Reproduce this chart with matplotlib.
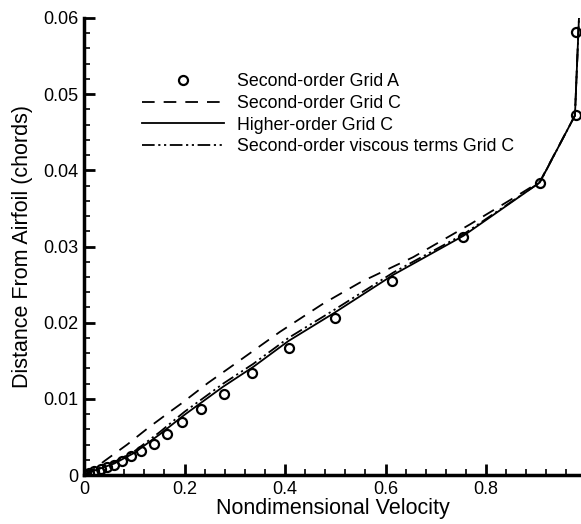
import matplotlib
matplotlib.use("Agg")
import matplotlib.pyplot as plt
from matplotlib.ticker import MultipleLocator
from matplotlib.lines import Line2D

plt.rcParams['font.family'] = ['Liberation Sans', 'DejaVu Sans']

# Second-order Grid A (circles)
vel_a = [0, 0.003, 0.010, 0.020, 0.033, 0.046, 0.060, 0.075, 0.093, 0.114, 0.139, 0.165,
         0.196, 0.233, 0.279, 0.334, 0.408, 0.500, 0.613, 0.754, 0.907, 0.980, 0.980]
dist_a = [0, 0.00013, 0.0003, 0.0005, 0.00075, 0.0010, 0.00137, 0.0019, 0.0025, 0.0032, 0.0041, 0.0054,
          0.0069, 0.0086, 0.0107, 0.0134, 0.0167, 0.0206, 0.0255, 0.0312, 0.0383, 0.0472, 0.0582]

# Second-order Grid C (dashed)
vel_c2 = [0, 0.02, 0.042, 0.086, 0.128, 0.171, 0.194, 0.247, 0.29, 0.39, 0.476, 0.55,
          0.655, 0.768, 0.848, 0.907, 0.977, 0.985]
dist_c2 = [0, 0.0008, 0.0019, 0.0040, 0.0062, 0.0083, 0.0094, 0.0121, 0.0141, 0.0188, 0.0225, 0.0253,
           0.0286, 0.0329, 0.0361, 0.0385, 0.0472, 0.0600]

# Higher-order Grid C (solid)
vel_ho = [0, 0.01, 0.03, 0.06, 0.10, 0.15, 0.20, 0.277, 0.337, 0.407, 0.496, 0.616,
          0.755, 0.907, 0.977, 0.985]
dist_ho = [0, 0.0003, 0.0008, 0.0015, 0.0029, 0.0053, 0.0079, 0.0116, 0.0142, 0.0176, 0.0212, 0.0263,
           0.0314, 0.0384, 0.0472, 0.0600]

# Second-order viscous terms Grid C (dash-dot-dot)
dist_sv = [0, 0.0003, 0.0009, 0.0017, 0.0031, 0.0056, 0.0083, 0.0120, 0.0146, 0.0180, 0.0216, 0.0266,
           0.0316, 0.0384, 0.0472, 0.0600]

labels = ["Second-order Grid A", "Second-order Grid C", "Higher-order Grid C",
          "Second-order viscous terms Grid C"]

fig = plt.figure(figsize=(5.81, 5.24), dpi=100)
ax = fig.add_axes([84 / 581, 49 / 524, 1 - 84 / 581, 457 / 524])

dash = (0, (7, 5))
dashdotdot = (0, (7, 2, 1.2, 2, 1.2, 2))

ax.plot(vel_c2, dist_c2, color='black', lw=1.3, linestyle=dash)
ax.plot(vel_ho, dist_sv, color='black', lw=1.3, linestyle=dashdotdot)
ax.plot(vel_ho, dist_ho, color='black', lw=1.3)
ax.plot(vel_a, dist_a, 'o', mfc='none', mec='black', mew=1.6, ms=6.5)

ax.set_xlim(0, 497 / 502.5)
ax.set_ylim(0, 0.06)
ax.xaxis.set_minor_locator(MultipleLocator(0.04))
ax.yaxis.set_minor_locator(MultipleLocator(0.002))
ax.set_xticks([0, 0.2, 0.4, 0.6, 0.8])
ax.set_xticklabels(['0', '0.2', '0.4', '0.6', '0.8'])
ax.set_yticks([0, 0.01, 0.02, 0.03, 0.04, 0.05, 0.06])
ax.set_yticklabels(['0', '0.01', '0.02', '0.03', '0.04', '0.05', '0.06'])

for side in ['top', 'right']:
    ax.spines[side].set_visible(False)
for side in ['left', 'bottom']:
    ax.spines[side].set_linewidth(2.5)

ax.tick_params(which='major', direction='in', length=8, width=2, labelsize=13, pad=4)
ax.tick_params(which='minor', direction='in', length=4, width=1.2)

ax.set_xlabel("Nondimensional Velocity", fontsize=15.5, labelpad=0)
ax.set_ylabel("Distance From Airfoil (chords)", fontsize=15.5, labelpad=7)

handles = [
    Line2D([], [], marker='o', linestyle='none', mfc='none', mec='black', mew=1.6, ms=6.5),
    Line2D([], [], color='black', lw=1.3, linestyle=dash),
    Line2D([], [], color='black', lw=1.3),
    Line2D([], [], color='black', lw=1.3, linestyle=dashdotdot),
]
ax.legend(handles, labels, loc='upper left', bbox_to_anchor=(142 / 581, 1 - 73 / 524),
          bbox_transform=fig.transFigure, frameon=False, fontsize=12.8, handlelength=4.6,
          handletextpad=0.72, labelspacing=0.27, borderpad=0, borderaxespad=0, numpoints=1)

fig.savefig("out.png", dpi=100)
